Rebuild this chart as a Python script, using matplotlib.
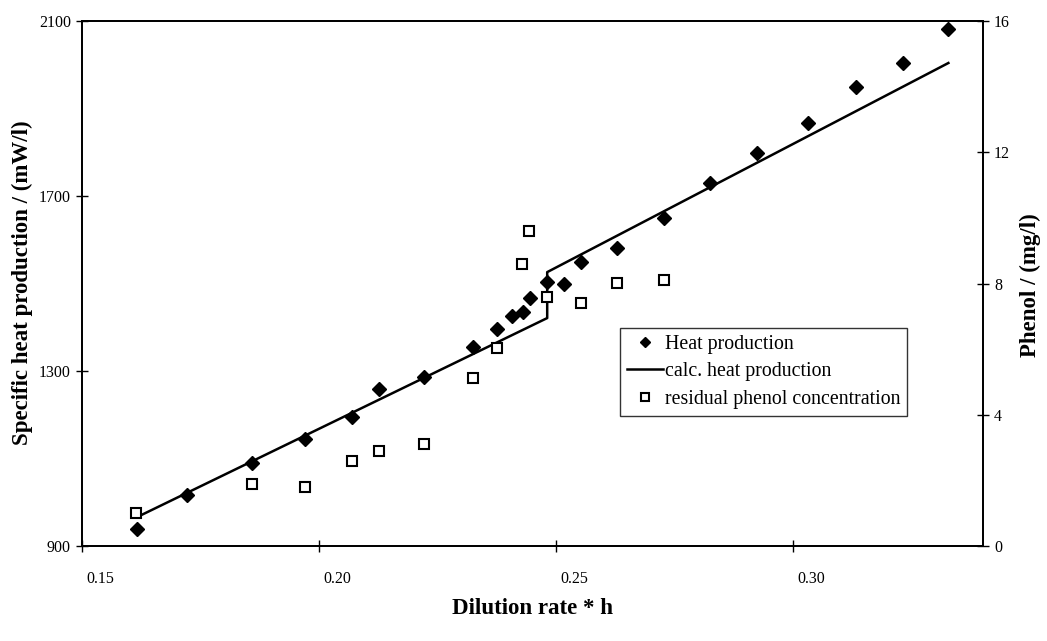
import matplotlib
matplotlib.use("Agg")
import matplotlib.pyplot as plt
import matplotlib.transforms as mtransforms

plt.rcParams['font.family'] = ['Liberation Serif', 'DejaVu Serif']

# Dilution rate (1/h) and measured heat production (mW/l)
heat_x = [0.1616, 0.1722, 0.1859, 0.1970, 0.2070, 0.2127, 0.2222, 0.2325,
          0.2376, 0.2407, 0.2430, 0.2445, 0.2481, 0.2517, 0.2553, 0.2629,
          0.2728, 0.2825, 0.2924, 0.3032, 0.3133, 0.3232, 0.3327]
heat_y = [939, 1017, 1090, 1145, 1195, 1259, 1286, 1355,
          1396, 1426, 1435, 1467, 1503, 1499, 1549, 1581,
          1650, 1730, 1798, 1867, 1949, 2004, 2082]

# Calculated heat production (piecewise line)
calc_x = [0.1616, 0.2481, 0.2481, 0.3327]
calc_y = [966, 1421, 1526, 2004]

# Residual phenol concentration (mg/l)
phenol_x = [0.1614, 0.1859, 0.1970, 0.2070, 0.2127, 0.2222, 0.2325,
            0.2376, 0.2428, 0.2443, 0.2481, 0.2553, 0.2629, 0.2728]
phenol_y = [1.01, 1.89, 1.80, 2.59, 2.90, 3.11, 5.12,
            6.03, 8.59, 9.60, 7.59, 7.41, 8.02, 8.11]

x_ticks = [0.15, 0.20, 0.25, 0.30]
x_ticklabels = ["0.15", "0.20", "0.25", "0.30"]
y_ticks = [900, 1300, 1700, 2100]
y2_ticks = [0, 4, 8, 12, 16]

fig = plt.figure(figsize=(10.47, 6.41), dpi=100)
ax = fig.add_axes([82/1047, 1-546/641, (983-82)/1047, (546-21)/641])
ax2 = ax.twinx()

h1, = ax.plot(heat_x, heat_y, linestyle='none', marker='D', markersize=7,
              color='black', label='Heat production')
h2, = ax.plot(calc_x, calc_y, color='black', linewidth=1.8,
              label='calc. heat production')
h3, = ax2.plot(phenol_x, phenol_y, linestyle='none', marker='s', markersize=7,
               markerfacecolor='white', markeredgecolor='black',
               markeredgewidth=1.5, label='residual phenol concentration')

ax.set_xlim(0.15, 0.34)
ax.set_ylim(900, 2100)
ax2.set_ylim(0, 16)
ax.set_xticks(x_ticks)
ax.set_xticklabels(x_ticklabels)
ax.set_yticks(y_ticks)
ax2.set_yticks(y2_ticks)

for a in (ax, ax2):
    for s in a.spines.values():
        s.set_linewidth(1.3)
        s.set_color('black')

ax.tick_params(axis='both', direction='inout', length=8, width=1.0,
               labelsize=11.5, colors='black')
ax.tick_params(axis='x', pad=14)
ax.tick_params(axis='y', pad=4)
ax2.tick_params(axis='y', direction='inout', length=8, width=1.0,
                labelsize=11.5, pad=4)

# x tick labels sit slightly to the right of their ticks in the original
offset = mtransforms.ScaledTranslation(18/100, 0, fig.dpi_scale_trans)
for lbl in ax.get_xticklabels():
    lbl.set_transform(lbl.get_transform() + offset)

fig.text(22/1047, 1-283/641, 'Specific heat production / (mW/l)', fontsize=16.5,
         fontweight='bold', rotation=90, ha='center', va='center')
fig.text(1030/1047, 1-285/641, 'Phenol / (mg/l)', fontsize=16.5,
         fontweight='bold', rotation=90, ha='center', va='center')
fig.text(533/1047, 1-608/641, 'Dilution rate * h', fontsize=16.5,
         fontweight='bold', ha='center', va='center')

leg = ax.legend(handles=[h1, h2, h3], loc='upper left',
                bbox_to_anchor=((620-82)/901, (546-328)/525),
                fontsize=14.3, frameon=True, fancybox=False, borderpad=0.35,
                handlelength=1.8, handletextpad=0.1, labelspacing=0.42,
                borderaxespad=0)
leg.get_frame().set_edgecolor('black')
leg.get_frame().set_linewidth(1.0)
for lh in leg.legend_handles:
    try:
        lh.set_markersize(5.5)
    except Exception:
        pass

fig.savefig('out.png', dpi=100)
